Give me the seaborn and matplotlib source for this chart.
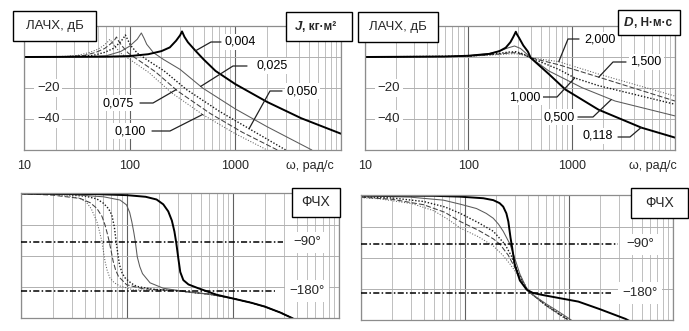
import matplotlib
matplotlib.use("Agg")
import numpy as np
import matplotlib.pyplot as plt
import matplotlib.transforms as mtransforms
from matplotlib.patches import Rectangle
from matplotlib.ticker import LogLocator
import seaborn as sns

sns.set_theme(style="white")
plt.rcParams["font.family"] = ["Liberation Sans", "DejaVu Sans"]

# ---------------- amplitude (dB), varying inertia J ----------------
j004_w = [10, 60, 100, 150, 200, 240, 275, 300, 313, 330, 356, 420, 500, 650, 1000, 2000, 4200, 10000]
j004_db = [0, 0.2, 0.6, 1.8, 3.8, 6.2, 10.5, 14, 16.5, 13, 9.5, 4, -1.5, -9, -17.5, -29, -39.5, -49.5]

j025_w = [10, 40, 60, 82, 100, 118, 129, 137, 145, 168, 208, 300, 490, 1000, 2000, 5300]
j025_db = [0, 0.2, 0.8, 3.5, 7, 11.5, 15.5, 12, 8.2, 2.8, -1.5, -8, -20, -33.5, -45, -60]

j050_w = [10, 30, 45, 58, 70, 80, 87, 91, 96, 102, 118, 147, 212, 345, 705, 1410, 3000]
j050_db = [0, 0.3, 1, 3, 5.5, 9, 12, 14.2, 11, 7.5, 2.5, -2, -9, -21, -35, -47, -60]

j075_w = [10, 25, 37, 48, 58, 66, 72, 75, 79, 85, 97, 121, 175, 285, 580, 1160, 2500]
j075_db = [0, 0.3, 1, 3, 5.5, 8.5, 11, 12.9, 10, 7, 2.5, -2, -9.5, -22, -36.5, -48.5, -60]

j100_w = [10, 22, 32, 42, 50, 57, 62, 65, 69, 74, 84, 105, 152, 248, 500, 1000, 2000]
j100_db = [0, 0.3, 1, 3, 5, 7.5, 9.8, 11.4, 9, 6, 2, -2.5, -10, -23, -37.5, -49.5, -60]

# ---------------- amplitude (dB), varying damping D ----------------
d118_w = [10, 60, 100, 159, 200, 230, 255, 270, 281, 288, 296, 309, 340, 377, 401, 601, 870, 1820, 4740, 10000]
d118_db = [0, 0.3, 0.8, 2, 3.8, 6, 9.5, 12.5, 14.8, 16.3, 14.5, 12.5, 7.5, 3.5, -0.5, -11, -21, -34, -45.6, -52]

d500_w = [10, 60, 100, 160, 200, 240, 280, 320, 360, 401, 601, 1260, 2630, 10000]
d500_db = [0, 0.3, 0.8, 2.2, 3.8, 5.8, 7.1, 5.5, 2.5, -0.5, -9, -19.8, -28.4, -38]

d1000_w = [10, 100, 180, 250, 290, 340, 401, 750, 1070, 1820, 10000]
d1000_db = [0, 0.6, 2, 3.2, 3.4, 2, -0.5, -8, -13.5, -18.5, -30.5]

d1500_w = [10, 100, 180, 250, 290, 340, 401, 750, 1830, 10000]
d1500_db = [0, 0.5, 1.7, 2.6, 2.8, 1.6, -0.5, -5, -13, -28.4]

d2000_w = [10, 100, 180, 250, 290, 340, 401, 750, 1820, 10000]
d2000_db = [0, 0.4, 1.4, 2, 2.1, 1.2, -0.5, -3, -11, -25.2]

# ---------------- phase (deg), varying J ----------------
pj004_w = [10, 50, 100, 150, 190, 220, 245, 265, 280, 292, 305, 318, 340, 380, 470, 700, 1000, 1500, 2000, 2800, 3600, 4200]
pj004_deg = [0, -1, -3, -6, -11, -20, -33, -50, -70, -92, -120, -145, -160, -168, -175, -187, -194, -202, -209, -220, -230, -237]

pj025_w = [10, 30, 60, 86, 99, 106, 111, 116, 120, 125, 132, 140, 165, 220, 300, 400, 600, 1000, 1500, 2000, 2800, 3600, 4200]
pj025_deg = [0, -2, -6, -12, -21, -35, -52, -72, -90, -117, -135, -148, -165, -175, -179, -182.5, -186, -194, -202, -209, -220, -230, -237]

pj050_w = [10, 25, 41, 52, 60, 67, 72, 76, 79, 82, 85, 90, 96, 110, 123, 176, 300, 400, 600, 1000, 1500, 2000, 2800, 3600, 4200]
pj050_deg = [0, -1.5, -5, -10, -18, -28, -40, -62, -89, -112, -132, -147, -156, -166, -171.5, -177, -179.5, -182.5, -186, -194, -202, -209, -220, -230, -237]

pj075_w = [10, 20, 36, 45, 52, 58, 62, 65, 68, 71, 74, 78, 83, 99, 142, 300, 400, 600, 1000, 1500, 2000, 2800, 3600, 4200]
pj075_deg = [0, -3, -9, -17, -27.5, -42, -58, -73, -89, -107, -125, -141, -153, -168.5, -176, -179.5, -182.5, -186, -194, -202, -209, -220, -230, -237]

pj100_w = [10, 20, 29, 36, 41, 46, 52, 55, 58, 60, 62, 65, 69, 76, 86, 115, 300, 400, 600, 1000, 1500, 2000, 2800, 3600, 4200]
pj100_deg = [0, -2, -5, -9, -15, -28, -52, -70, -89, -107, -125, -142, -156, -165, -171, -178, -179.5, -182.5, -186, -194, -202, -209, -220, -230, -237]

# ---------------- phase (deg), varying D ----------------
pd118_w = [10, 50, 89, 150, 187, 215, 233, 250, 261, 274, 284, 300, 337, 392, 450, 565, 950, 1230, 1980, 3500, 4200]
pd118_deg = [0, -0.5, -2, -5, -8.5, -14, -20.5, -33, -48, -78, -96, -127, -157, -174, -180, -184, -192, -196, -210, -228, -236]

pd500_w = [10, 30, 62, 90, 129, 160, 187, 210, 233, 271, 300, 337, 392, 430, 600, 800, 1050, 1150]
pd500_deg = [-0.5, -3, -8.5, -16, -24, -33, -42, -53, -66, -90, -115, -145, -172, -181, -200, -215, -230, -237]

pd1000_w = [10, 20, 40, 64, 90, 134, 187, 242, 280, 330, 406, 600, 800, 1000, 1100]
pd1000_deg = [-2, -4.5, -11, -21, -33, -50, -66, -90, -112, -145, -177, -202, -218, -230, -237]

pd1500_w = [10, 20, 40, 64, 90, 134, 187, 217, 260, 325, 406, 600, 800, 980, 1080]
pd1500_deg = [-3, -7, -17, -31, -48, -64, -80, -90, -110, -145, -177, -203, -219, -230, -237]

pd2000_w = [10, 15, 31, 50, 70, 90, 134, 187, 230, 272, 330, 393, 406, 600, 800, 960, 1060]
pd2000_deg = [-4, -6, -15, -28, -45, -60, -76, -93, -110, -127, -150, -172, -176, -204, -220, -230, -237]

J_names = ["0,004", "0,025", "0,050", "0,075", "0,100"]
D_names = ["0,118", "0,500", "1,000", "1,500", "2,000"]

STYLE = {
    "thick": dict(color="black", linewidth=1.4, linestyle="-"),
    "thin": dict(color="#5a5a5a", linewidth=0.75, linestyle="-"),
    "dot": dict(color="#1a1a1a", linewidth=1.0, linestyle=(0, (1, 1.3))),
    "dash": dict(color="#404040", linewidth=0.75, linestyle=(0, (5, 2))),
    "fine": dict(color="#606060", linewidth=0.75, linestyle=(0, (1, 1.6))),
}

W, H = 689, 331
fig = plt.figure(figsize=(W / 100, H / 100), dpi=100)
fig.patch.set_facecolor("white")

BOX_TL = (24, 26, 341, 150)
BOX_TR = (365, 26, 675, 150)
BOX_BL = (21, 193, 339, 318)
BOX_BR = (361, 195, 673, 320)


def make_axes(box, ylim, ygrid):
    x0, y0, x1, y1 = box
    ax = fig.add_axes([x0 / W, 1 - y1 / H, (x1 - x0) / W, (y1 - y0) / H])
    ax.set_xscale("log")
    ax.set_xlim(10, 1e4)
    ax.set_ylim(*ylim)
    ax.xaxis.set_major_locator(LogLocator(base=10, numticks=10))
    ax.xaxis.set_minor_locator(LogLocator(base=10, subs=np.arange(2, 10), numticks=30))
    ax.set_yticks(ygrid)
    ax.grid(True, which="minor", axis="x", color="#b4b4b4", linewidth=0.6)
    ax.grid(True, which="major", axis="x", color="#606060", linewidth=0.8)
    ax.grid(True, which="major", axis="y", color="#b0b0b0", linewidth=0.7)
    ax.set_axisbelow(True)
    ax.tick_params(which="both", length=0, labelbottom=False, labelleft=False)
    for s in ax.spines.values():
        s.set_color("#8c8c8c")
        s.set_linewidth(0.9)
    ax.set_facecolor("white")
    return ax


def draw(ax, w, v, kind):
    sns.lineplot(x=w, y=v, ax=ax, sort=False, estimator=None, **STYLE[kind])
    ax.set_xlabel("")
    ax.set_ylabel("")


def px_to_axes(box, px, py):
    x0, y0, x1, y1 = box
    return ((px - x0) / (x1 - x0), (y1 - py) / (y1 - y0))


def value_label(ax, box, text, center, start, knee, tip_w, curve_w, curve_v):
    tip_v = np.interp(np.log10(tip_w), np.log10(curve_w), curve_v)
    tip = ax.transAxes.inverted().transform(ax.transData.transform((tip_w, tip_v)))
    p0 = px_to_axes(box, *start)
    p1 = px_to_axes(box, *knee)
    ax.plot([p0[0], p1[0], tip[0]], [p0[1], p1[1], tip[1]], transform=ax.transAxes,
            color="#222222", linewidth=0.9, clip_on=False, zorder=6)
    c = px_to_axes(box, *center)
    ax.text(c[0], c[1], text, transform=ax.transAxes, ha="center", va="center",
            fontsize=9, color="black", zorder=7,
            bbox=dict(boxstyle="square,pad=0.15", fc="white", ec="none"))


def framed(x0, y0, x1, y1, text=None, fontsize=9.5):
    fig.patches.append(Rectangle((x0 / W, 1 - y1 / H), (x1 - x0) / W, (y1 - y0) / H,
                                 transform=fig.transFigure, fc="white", ec="black",
                                 lw=1.0, zorder=20))
    if text is not None:
        fig.text((x0 + x1) / 2 / W, 1 - (y0 + y1) / 2 / H, text, ha="center", va="center",
                 fontsize=fontsize, zorder=21)


def unit_label(x_left, yc, sym, unit):
    t1 = fig.text(x_left / W, 1 - yc / H, sym, ha="left", va="baseline", fontsize=9.5,
                  fontweight="bold", style="italic", zorder=22)
    renderer = fig.canvas.get_renderer()
    bb = t1.get_window_extent(renderer)
    fig.text(bb.x1 / W, 1 - yc / H, unit, ha="left", va="baseline", fontsize=8.5,
             fontweight="bold", zorder=22)


def freq_labels(ax, x_unit):
    tr = mtransforms.blended_transform_factory(ax.transData, ax.transAxes)
    for w, s in [(10, "10"), (100, "100"), (1000, "1000")]:
        ax.text(w, -0.13, s, transform=tr, ha="center", va="center", fontsize=9, clip_on=False)
    ax.text(x_unit, -0.13, "ω, рад/с", transform=ax.transAxes, ha="center", va="center",
            fontsize=9, clip_on=False)


def db_labels(ax):
    for v in (-20, -40):
        ax.text(17, v, f"\u2212{abs(v)}", ha="center", va="center", fontsize=9.5, zorder=5,
                bbox=dict(boxstyle="square,pad=0.2", fc="white", ec="none"))


def phase_refs(ax, xlab):
    ax.axhline(-90, xmin=0, xmax=0.824, color="black", linewidth=1.1,
               linestyle=(0, (4, 1.5, 1, 1.5)), zorder=3)
    ax.axhline(-180, xmin=0, xmax=0.80, color="black", linewidth=1.1,
               linestyle=(0, (4, 1.5, 1, 1.5)), zorder=3)
    tr = mtransforms.blended_transform_factory(ax.transAxes, ax.transData)
    for v in (-90, -180):
        ax.text(xlab, v, f"\u2212{abs(v)}°", transform=tr, ha="center", va="center",
                fontsize=9.5, zorder=6,
                bbox=dict(boxstyle="square,pad=0.35", fc="white", ec="none"))


DB_LIM = (-60, 20)
DB_GRID = [-40, -20, 0]
PH_LIM = (-230, 1)
PH_GRID = [-57.5, -115, -172.5]

# ---- top left: amplitude vs J ----
ax1 = make_axes(BOX_TL, DB_LIM, DB_GRID)
draw(ax1, j100_w, j100_db, "fine")
draw(ax1, j075_w, j075_db, "dash")
draw(ax1, j050_w, j050_db, "dot")
draw(ax1, j025_w, j025_db, "thin")
draw(ax1, j004_w, j004_db, "thick")
db_labels(ax1)
freq_labels(ax1, 0.902)
value_label(ax1, BOX_TL, J_names[0], (240, 42), (221, 42), (211, 42), 420, j004_w, j004_db)
value_label(ax1, BOX_TL, J_names[1], (272, 66), (247, 66), (233, 66), 470, j025_w, j025_db)
value_label(ax1, BOX_TL, J_names[2], (302, 91), (282, 91), (270, 91), 1350, j050_w, j050_db)
value_label(ax1, BOX_TL, J_names[3], (118, 103), (140, 103), (153, 103), 275, j075_w, j075_db)
value_label(ax1, BOX_TL, J_names[4], (130, 131), (152, 131), (170, 131), 490, j100_w, j100_db)

# ---- top right: amplitude vs D ----
ax2 = make_axes(BOX_TR, DB_LIM, DB_GRID)
draw(ax2, d2000_w, d2000_db, "fine")
draw(ax2, d1500_w, d1500_db, "dash")
draw(ax2, d1000_w, d1000_db, "dot")
draw(ax2, d500_w, d500_db, "thin")
draw(ax2, d118_w, d118_db, "thick")
db_labels(ax2)
freq_labels(ax2, 0.929)
value_label(ax2, BOX_TR, D_names[4], (600, 40), (579, 39), (568, 39), 750, d2000_w, d2000_db)
value_label(ax2, BOX_TR, D_names[3], (646, 62), (626, 62), (613, 62), 1830, d1500_w, d1500_db)
value_label(ax2, BOX_TR, D_names[2], (525, 97), (543, 97), (557, 97), 1070, d1000_w, d1000_db)
value_label(ax2, BOX_TR, D_names[1], (559, 117), (578, 117), (593, 117), 2420, d500_w, d500_db)
value_label(ax2, BOX_TR, D_names[0], (598, 136), (618, 137), (630, 137), 4700, d118_w, d118_db)

# ---- bottom left: phase vs J ----
ax3 = make_axes(BOX_BL, PH_LIM, PH_GRID)
draw(ax3, pj100_w, pj100_deg, "fine")
draw(ax3, pj075_w, pj075_deg, "dash")
draw(ax3, pj050_w, pj050_deg, "dot")
draw(ax3, pj025_w, pj025_deg, "thin")
draw(ax3, pj004_w, pj004_deg, "thick")
phase_refs(ax3, 0.90)

# ---- bottom right: phase vs D ----
ax4 = make_axes(BOX_BR, PH_LIM, PH_GRID)
draw(ax4, pd2000_w, pd2000_deg, "fine")
draw(ax4, pd1500_w, pd1500_deg, "dash")
draw(ax4, pd1000_w, pd1000_deg, "dot")
draw(ax4, pd500_w, pd500_deg, "thin")
draw(ax4, pd118_w, pd118_deg, "thick")
phase_refs(ax4, 0.895)

# ---- framed captions ----
framed(13, 11, 96, 41, "ЛАЧХ, дБ")
framed(358, 12, 438, 42, "ЛАЧХ, дБ")
framed(286, 12, 352, 41)
unit_label(295, 30, "J", ", кг·м²")
framed(618, 10, 680, 35)
unit_label(624, 26.5, "D", ", Н·м·с")
framed(292, 188, 340, 217, "ФЧХ", fontsize=10)
framed(631, 188, 688, 218, "ФЧХ", fontsize=10)

fig.savefig("out.png", dpi=100, facecolor="white")
